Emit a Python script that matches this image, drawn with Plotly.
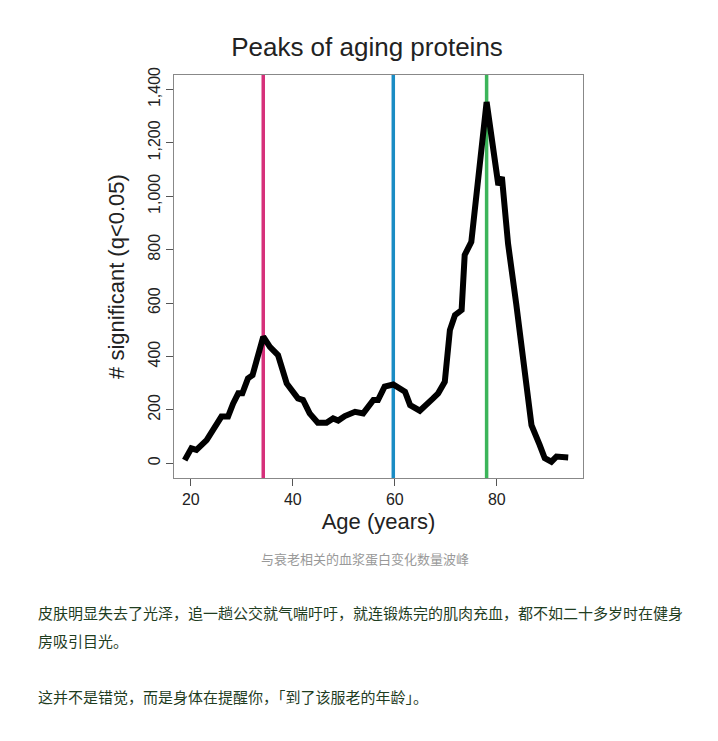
import plotly.graph_objects as go

age = [18.8, 20.1, 21.1, 23.1, 26.0, 27.3, 28.3, 29.3, 30.1, 31.2, 32.1, 34.2, 35.5, 37.1,
       38.8, 39.7, 41.0, 42.0, 43.3, 44.9, 46.6, 47.9, 48.9, 50.2, 52.2, 53.8, 55.8, 56.7,
       58.0, 59.7, 62.0, 63.0, 64.9, 67.5, 68.5, 69.8, 70.8, 71.8, 73.1, 73.7, 75.0, 78.0,
       80.3, 81.0, 82.2, 83.8, 84.8, 86.8, 88.4, 89.4, 90.7, 91.7, 94.0]
n_significant = [12, 56, 50, 87, 175, 175, 224, 262, 262, 318, 330, 474, 436, 405,
                 299, 274, 243, 237, 187, 152, 152, 168, 160, 177, 193, 187, 237, 237,
                 287, 295, 268, 218, 197, 243, 262, 305, 499, 555, 574, 780, 829, 1353,
                 1042, 1072, 823, 598, 449, 143, 69, 19, 6, 25, 22]
peak_ages = [34.2, 59.7, 78.0]
peak_colors = ['#d6307a', '#1a8cc4', '#3cb55a']

y_ticks = [0, 200, 400, 600, 800, 1000, 1200, 1400]
y_labels = ['0', '200', '400', '600', '800', '1,000', '1,200', '1,400']

caption = '与衰老相关的血浆蛋白变化数量波峰'
body_lines = ['皮肤明显失去了光泽，追一趟公交就气喘吁吁，就连锻炼完的肌肉充血，都不如二十多岁时在健身',
              '房吸引目光。',
              '这并不是错觉，而是身体在提醒你，「到了该服老的年龄」。']

fig = go.Figure()
for a, c in zip(peak_ages, peak_colors):
    fig.add_trace(go.Scatter(x=[a, a], y=[-55, 1454], mode='lines',
                             line=dict(color=c, width=3.5), showlegend=False, hoverinfo='skip'))
fig.add_trace(go.Scatter(x=age, y=n_significant, mode='lines',
                         line=dict(color='black', width=6), showlegend=False))

font = 'Liberation Sans, Arial, sans-serif'
fig.update_layout(
    width=718, height=741, plot_bgcolor='white', paper_bgcolor='white',
    margin=dict(l=166, r=143, t=67, b=271),
    font=dict(family=font, color='#222'),
    title=dict(text='Peaks of aging proteins', x=0.5, xanchor='center',
               y=0.947, yanchor='middle', font=dict(size=26, color='#222')),
    xaxis=dict(range=[16.7, 96.9], tickvals=[20, 40, 60, 80], ticks='outside', ticklen=7,
               tickcolor='#555', showgrid=False, zeroline=False, showline=True, linecolor='#888',
               mirror=True, tickfont=dict(size=16),
               title=dict(text='Age (years)', font=dict(size=22), standoff=6)),
    yaxis=dict(range=[-55, 1454], tickvals=y_ticks, ticktext=y_labels, tickangle=-90,
               ticks='outside', ticklen=7, tickcolor='#555', showgrid=False, zeroline=False,
               showline=True, linecolor='#888', mirror=True, tickfont=dict(size=16),
               title=dict(text='# significant (q<0.05)', font=dict(size=22), standoff=14)),
)

cjk = 'Noto Sans CJK SC'
fig.add_annotation(text=caption, xref='paper', yref='paper', x=0.467, y=-0.228,
                   showarrow=False, font=dict(family=cjk, size=13, color='#999'))
for txt, yy in zip(body_lines, [-0.365, -0.434, -0.573]):
    fig.add_annotation(text=txt, xref='paper', yref='paper', x=-0.337, y=yy, xanchor='left',
                       showarrow=False, font=dict(family=cjk, size=15, color='#1f3d1f'))

fig.write_html('out.html')
